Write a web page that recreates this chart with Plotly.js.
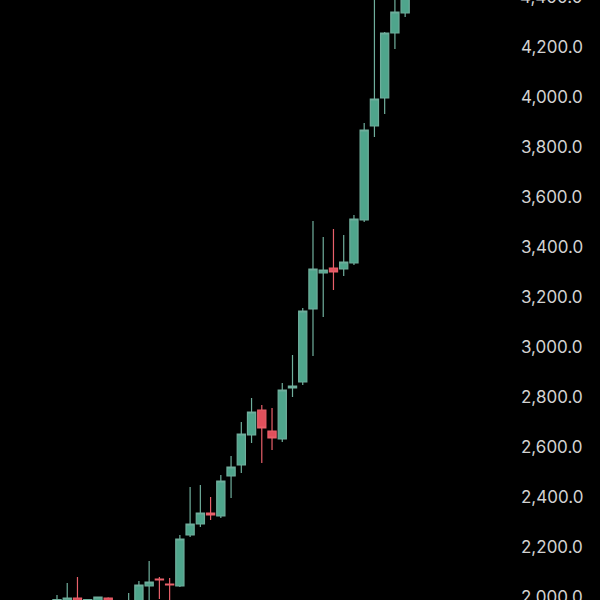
<!DOCTYPE html>
<html>
<head>
<meta charset="utf-8">
<script src="https://cdn.plot.ly/plotly-3.0.1.min.js"></script>
<style>html,body{margin:0;padding:0;background:#000;}#chart{width:600px;height:600px;}</style>
</head>
<body>
<div id="chart"></div>
<script>
const days   = [0,1,2,3,4,5,6,7,8,9,10,11,12,13,14,15,16,17,18,19,20,21,22,23,24,25,26,27,28,29,30,31,32,33,34];
const opens  = [1970,1975,1996,1975,1980,1996,1970,1975,1985,2044,2072,2052,2044,2248,2292,2336,2324,2484,2528,2648,2748,2664,2632,2836,2860,3152,3296,3316,3312,3336,3508,3884,3996,4256,4336];
const highs  = [2008,2056,2080,1990,2002,1999,1985,2016,2064,2144,2080,2076,2248,2440,2448,2400,2488,2564,2700,2796,2768,2756,2856,2968,3156,3504,3440,3472,3448,3528,3896,4420,4260,4420,4460];
const lows   = [1960,1960,1970,1965,1970,1965,1960,1965,1975,1980,1992,1985,2040,2240,2280,2308,2316,2396,2496,2616,2536,2588,2620,2800,2848,2964,3120,3228,3284,3328,3500,3840,3932,4192,4320];
const closes = [1990,1996,1980,1990,2000,1975,1980,1985,2048,2060,2068,2048,2232,2292,2336,2328,2464,2520,2652,2740,2676,2636,2828,2844,3144,3312,3308,3300,3340,3512,3868,3992,4256,4340,4440];

const yRange = [1988, 4388];
const edgeTicks = [4400];
const fmt = v => v.toLocaleString('en-US', {minimumFractionDigits: 1, maximumFractionDigits: 1});
const tickFont = {family: 'Inter, Roboto, sans-serif', size: 17, color: '#d2d2d2'};

const trace = {
  type: 'candlestick',
  x: days, open: opens, high: highs, low: lows, close: closes,
  increasing: {line: {color: '#6fae9c', width: 1.2}, fillcolor: '#4fa58c'},
  decreasing: {line: {color: '#e8606a', width: 1.2}, fillcolor: '#e0505c'},
  whiskerwidth: 0,
  hoverinfo: 'none'
};

const layout = {
  width: 600, height: 600,
  paper_bgcolor: '#000', plot_bgcolor: '#000',
  margin: {l: 0, r: 90, t: 0, b: 0},
  showlegend: false,
  boxgap: 0.2, boxgroupgap: 0,
  xaxis: {range: [-5.566, 44.24], visible: false, showgrid: false, zeroline: false, rangeslider: {visible: false}, fixedrange: true},
  yaxis: {
    side: 'right', range: yRange, dtick: 200, tick0: 0,
    tickformat: ',.1f', showgrid: false, zeroline: false, showline: false,
    ticks: '', ticklabelstandoff: 10, ticklabeloverflow: 'allow',
    tickfont: tickFont
  },
  annotations: edgeTicks.map(v => ({
    text: fmt(v), xref: 'paper', yref: 'paper',
    x: 1, xanchor: 'left', xshift: 8,
    y: (v - yRange[0]) / (yRange[1] - yRange[0]), yanchor: 'middle',
    showarrow: false, font: tickFont
  })),
  font: {family: 'Inter, Roboto, sans-serif', color: '#d2d2d2'}
};

Plotly.newPlot('chart', [trace], layout, {displayModeBar: false, staticPlot: true});
</script>
</body>
</html>
